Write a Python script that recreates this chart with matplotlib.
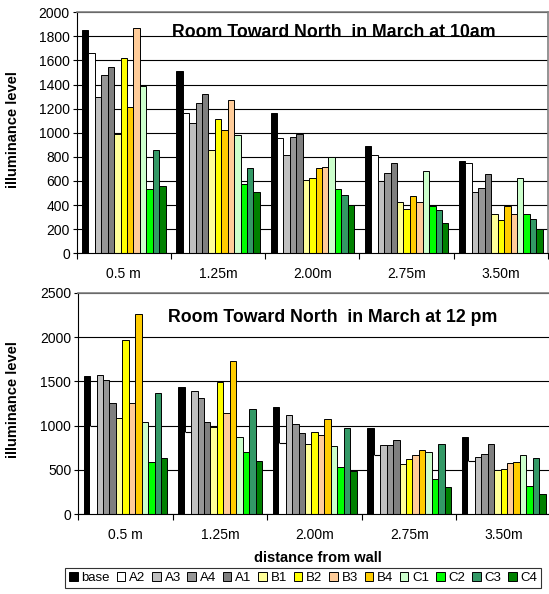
import matplotlib.pyplot as plt
import numpy as np
from matplotlib.patches import Patch

plt.rcParams['font.family'] = ['Liberation Sans', 'DejaVu Sans']

# ---- data ----
distances = ["0.5 m", "1.25m", "2.00m", "2.75m", "3.50m"]
series_names = ["base", "A2", "A3", "A4", "A1", "B1", "B2", "B3", "B4", "C1", "C2", "C3", "C4"]

# 10am, values in the order the bars are drawn
base_10 = [1850, 1515, 1162, 890, 766]
a2_10 = [1660, 1167, 954, 813, 747]
a3_10 = [1300, 1084, 813, 600, 511]
a4_10 = [1480, 1250, 963, 664, 539]
a1_10 = [1543, 1325, 990, 747, 656]
b1_10 = [990, 855, 606, 428, 324]
b2_10 = [1623, 1112, 622, 370, 276]
b3_10 = [1211, 1023, 708, 473, 390]
b4_10 = [1867, 1272, 716, 428, 324]
c1_10 = [1391, 979, 802, 680, 622]
c2_10 = [531, 573, 531, 390, 324]
c3_10 = [857, 705, 481, 359, 285]
c4_10 = [558, 509, 398, 249, 199]

# 12pm
base_12 = [1560, 1433, 1214, 974, 876]
a2_12 = [996, 932, 804, 669, 605]
a3_12 = [1568, 1395, 1124, 782, 643]
a4_12 = [1511, 1316, 1015, 782, 680]
a1_12 = [1252, 1038, 921, 835, 797]
b1_12 = [1086, 988, 793, 567, 500]
b2_12 = [1966, 1496, 932, 627, 515]
b3_12 = [1259, 1146, 898, 669, 579]
b4_12 = [2260, 1730, 1075, 729, 590]
c1_12 = [1045, 872, 767, 703, 669]
c2_12 = [587, 699, 537, 398, 323]
c3_12 = [1365, 1191, 974, 793, 639]
c4_12 = [635, 601, 489, 308, 229]

values_10 = [base_10, a2_10, a3_10, a4_10, a1_10, b1_10, b2_10, b3_10, b4_10,
             c1_10, c2_10, c3_10, c4_10]
values_12 = [base_12, a2_12, a3_12, a4_12, a1_12, b1_12, b2_12, b3_12, b4_12,
             c1_12, c2_12, c3_12, c4_12]

colors = ["#000000", "#FFFFFF", "#C0C0C0", "#969696", "#7F7F7F", "#FFFF99", "#FFFF00",
          "#FFCC99", "#FFCC00", "#CCFFCC", "#00FF00", "#339966", "#008000"]
# in the 10am chart B3/B4 colours are the other way round
colors_10 = colors[:7] + [colors[8], colors[7]] + colors[9:]

W, H = 549, 594
fig = plt.figure(figsize=(W / 100, H / 100), dpi=100)


def px_axes(left, top, right, bottom):
    return fig.add_axes([left / W, 1 - bottom / H, (right - left) / W, (bottom - top) / H])


def draw_chart(ax, values, bar_colors, ymax, ystep, title, title_pos, white_edges):
    n = len(values)
    x = np.arange(len(distances))
    w = 0.887 / n
    for j, vals in enumerate(values):
        pos = x + (j - (n - 1) / 2) * w
        if bar_colors[j] == "#FFFFFF" and not white_edges:
            ax.bar(pos, vals, w, color="white", edgecolor="none", zorder=2)
            ax.hlines(vals, pos - w / 2, pos + w / 2, color="black", lw=0.8, zorder=3)
        else:
            ax.bar(pos, vals, w, color=bar_colors[j], edgecolor="black", linewidth=0.7, zorder=2)
    ax.set_xlim(-0.5, len(distances) - 0.5)
    ax.set_ylim(0, ymax)
    ax.set_yticks(np.arange(0, ymax + 1, ystep))
    ax.yaxis.grid(True, color="black", lw=0.8, zorder=0)
    ax.set_axisbelow(True)
    ax.set_xticks(x)
    ax.set_xticklabels(distances, fontsize=10)
    ax.set_xticks(np.arange(-0.5, len(distances)), minor=True)
    ax.tick_params(axis="x", which="major", length=0, pad=10)
    ax.tick_params(axis="x", which="minor", length=4, width=0.8, direction="out")
    ax.tick_params(axis="y", labelsize=10, length=3, width=0.8, pad=2)
    for s in ["top", "right"]:
        ax.spines[s].set_color("#808080")
        ax.spines[s].set_linewidth(1.2)
    ax.spines["left"].set_linewidth(0.8)
    ax.spines["bottom"].set_linewidth(0.8)
    ax.text(title_pos[0], title_pos[1], title, transform=ax.transAxes, ha="center",
            va="center", fontsize=12.8, fontweight="bold", zorder=5)


ax1 = px_axes(76.7, 12.3, 548, 253.3)
draw_chart(ax1, values_10, colors_10, 2000, 200, "Room Toward North  in March at 10am",
           (0.545, 0.918), True)

ax2 = px_axes(78.3, 292.7, 551, 514.3)
draw_chart(ax2, values_12, colors, 2500, 500, "Room Toward North  in March at 12 pm",
           (0.538, 0.886), False)

fig.text(13 / W, 1 - 130 / H, "illuminance level", rotation=90, ha="center", va="center",
         fontsize=10.5, fontweight="bold")
fig.text(13 / W, 1 - 400 / H, "illuminance level", rotation=90, ha="center", va="center",
         fontsize=10.5, fontweight="bold")
fig.text(318 / W, 1 - 558 / H, "distance from wall", ha="center", va="center",
         fontsize=10.5, fontweight="bold")

handles = [Patch(facecolor=c, edgecolor="black", linewidth=0.7) for c in colors]
leg = fig.legend(handles, series_names, loc="upper left", bbox_to_anchor=(65 / W, 1 - 568 / H),
                 ncol=len(series_names), fontsize=9.5, frameon=True, fancybox=False,
                 handlelength=0.65, handleheight=0.65, handletextpad=0.3, columnspacing=0.5,
                 borderpad=0.3, borderaxespad=0)
leg.get_frame().set_edgecolor("black")
leg.get_frame().set_linewidth(0.8)

fig.savefig("out.png", dpi=100)
